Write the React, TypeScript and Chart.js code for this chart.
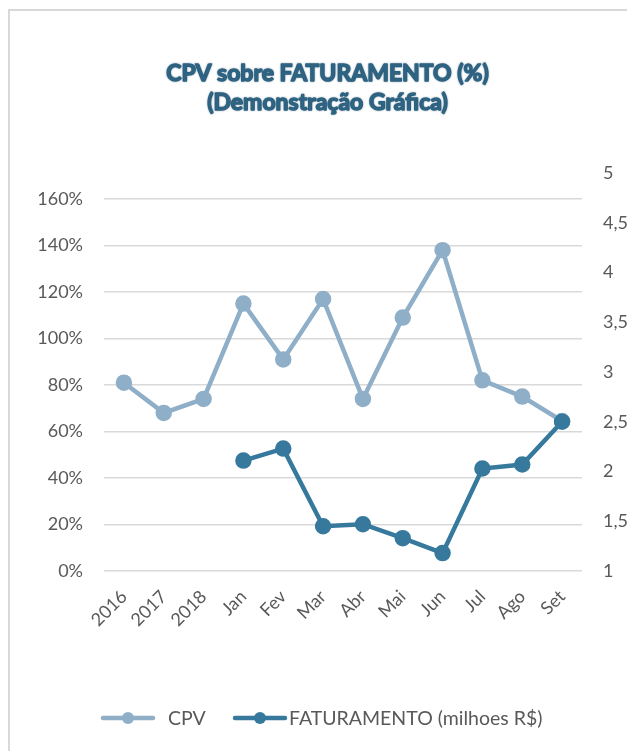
import React, { useEffect, useRef } from "react";
import { Chart, registerables } from "chart.js";

Chart.register(...registerables);

const categories = ["2016", "2017", "2018", "Jan", "Fev", "Mar", "Abr", "Mai", "Jun", "Jul", "Ago", "Set"];
const cpvValues = [81, 68, 74, 115, 91, 117, 74, 109, 138, 82, 75, 64.5];
const faturamentoValues = [null, null, null, 2.11, 2.23, 1.45, 1.47, 1.33, 1.18, 2.03, 2.07, 2.5];
const titleLines = ["CPV sobre FATURAMENTO (%)", "(Demonstração Gráfica)"];
const seriesLabels = ["CPV", "FATURAMENTO (milhoes R$)"];

const CPV_COLOR = "#8FAFC8";
const FAT_COLOR = "#36799D";
const TEXT_COLOR = "#595959";
const GRID_COLOR = "#D9D9D9";
const FONT = "Lato, 'Open Sans', sans-serif";

const W = 680;
const H = 751;

const overlayPlugin = {
  id: "overlay",
  afterDraw(chart: any) {
    const ctx = chart.ctx as CanvasRenderingContext2D;
    ctx.save();
    // Title
    ctx.fillStyle = "#2E6382";
    ctx.strokeStyle = "#2E6382";
    ctx.lineWidth = 1.4;
    ctx.lineJoin = "round";
    ctx.textAlign = "center";
    ctx.textBaseline = "middle";
    ctx.font = `bold 23px ${FONT}`;
    ctx.shadowColor = "rgba(40,80,110,0.4)";
    ctx.shadowBlur = 2;
    titleLines.forEach((t, i) => {
      const ty = 74 + i * 28.5;
      ctx.strokeText(t, 327.5, ty);
      ctx.fillText(t, 327.5, ty);
    });
    ctx.shadowBlur = 0;
    ctx.shadowColor = "transparent";

    // Legend
    const ds = chart.data.datasets;
    const items = [
      { x: 103, textGap: 15 },
      { x: 235, textGap: 4 },
    ];
    const y = 718;
    ctx.font = `19.5px ${FONT}`;
    ctx.textAlign = "left";
    ctx.textBaseline = "middle";
    items.forEach((it, i) => {
      const color = ds[i].borderColor as string;
      ctx.strokeStyle = color;
      ctx.lineWidth = 4.5;
      ctx.lineCap = "round";
      ctx.beginPath();
      ctx.moveTo(it.x, y);
      ctx.lineTo(it.x + 50, y);
      ctx.stroke();
      ctx.fillStyle = color;
      ctx.beginPath();
      ctx.arc(it.x + 25, y, 6, 0, Math.PI * 2);
      ctx.fill();
      ctx.fillStyle = TEXT_COLOR;
      ctx.fillText(ds[i].label, it.x + 50 + it.textGap, y + 1);
    });
    ctx.restore();
  },
};

export default function App() {
  const ref = useRef<HTMLCanvasElement | null>(null);

  useEffect(() => {
    if (!ref.current) return;
    const chart = new Chart(ref.current, {
      type: "line",
      data: {
        labels: categories,
        datasets: [
          {
            label: seriesLabels[0],
            data: cpvValues,
            yAxisID: "y",
            borderColor: CPV_COLOR,
            backgroundColor: CPV_COLOR,
            pointBackgroundColor: CPV_COLOR,
            pointBorderColor: CPV_COLOR,
            borderWidth: 4.5,
            pointRadius: 6,
            tension: 0,
            order: 1,
          },
          {
            label: seriesLabels[1],
            data: faturamentoValues,
            yAxisID: "y1",
            borderColor: FAT_COLOR,
            backgroundColor: FAT_COLOR,
            pointBackgroundColor: FAT_COLOR,
            pointBorderColor: FAT_COLOR,
            borderWidth: 4.5,
            pointRadius: 6,
            tension: 0,
            spanGaps: false,
            order: 0,
          },
        ],
      },
      options: {
        responsive: false,
        animation: false,
        devicePixelRatio: 1,
        layout: { padding: { top: 173, left: 0, right: 0, bottom: 0 } },
        plugins: {
          legend: { display: false },
          title: { display: false },
          tooltip: { enabled: false },
        },
        scales: {
          x: {
            offset: true,
            grid: { display: false, drawTicks: false },
            border: { display: false },
            ticks: {
              minRotation: 45,
              maxRotation: 45,
              autoSkip: false,
              padding: 15,
              color: TEXT_COLOR,
              font: { family: FONT, size: 18 },
            },
            afterFit(scale: any) {
              scale.height = H - 571;
            },
          },
          y: {
            position: "left",
            min: 0,
            max: 171.18,
            grid: { color: GRID_COLOR, lineWidth: 1.5, drawTicks: false },
            border: { display: false },
            ticks: {
              stepSize: 20,
              padding: 21,
              color: TEXT_COLOR,
              font: { family: FONT, size: 18 },
              callback: (v: any) => `${v}%`,
            },
            afterBuildTicks(scale: any) {
              scale.ticks = scale.ticks.filter((t: any) => t.value <= 160 + 1e-6);
            },
            afterFit(scale: any) {
              scale.width = 104;
            },
          },
          y1: {
            position: "right",
            min: 1,
            max: 5,
            grid: { drawOnChartArea: false, drawTicks: false },
            border: { display: false },
            ticks: {
              stepSize: 0.5,
              padding: 21,
              color: TEXT_COLOR,
              font: { family: FONT, size: 18 },
              callback: (v: any) => String(v).replace(".", ","),
            },
            afterFit(scale: any) {
              scale.width = W - 582;
            },
          },
        },
      },
      plugins: [overlayPlugin],
    });
    return () => chart.destroy();
  }, []);

  return (
    <div
      style={{
        position: "fixed",
        left: 0,
        top: 0,
        width: 627,
        height: 751,
        overflow: "hidden",
        background: "#fff",
      }}
    >
      <div
        style={{
          position: "absolute",
          left: 8,
          top: 9,
          width: 700,
          height: 800,
          border: "2px solid #D9D9D9",
          boxSizing: "border-box",
        }}
      />
      <canvas
        ref={ref}
        width={W}
        height={H}
        style={{ position: "absolute", left: 0, top: 0, width: W, height: H }}
      />
    </div>
  );
}
